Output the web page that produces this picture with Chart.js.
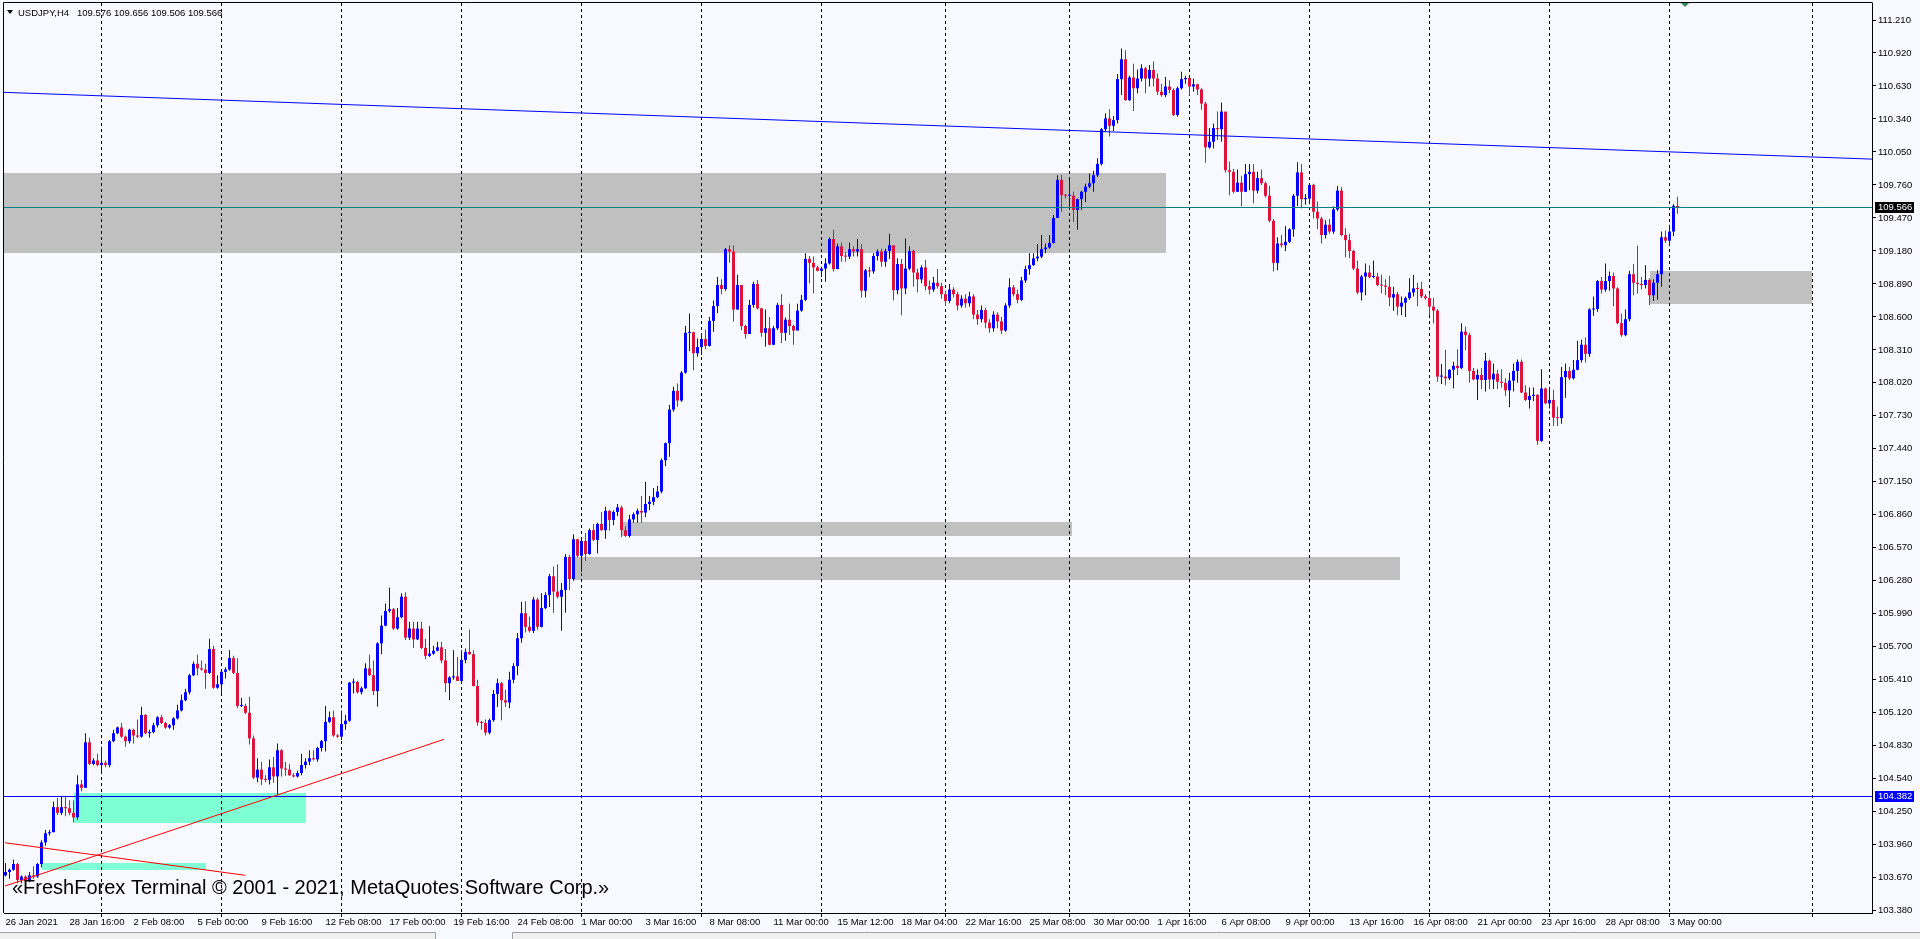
<!DOCTYPE html>
<html>
<head>
<meta charset="utf-8">
<title>USDJPY,H4</title>
<script src="https://cdn.jsdelivr.net/npm/chart.js@4.4.1/dist/chart.umd.min.js"></script>
<style>
  html, body { margin: 0; padding: 0; background: #f8f8ff; overflow: hidden; }
  #chart { display: block; }
</style>
</head>
<body>
<canvas id="chart" width="1920" height="939"></canvas>
<script>
// USDJPY H4, one value per bar (bar 0 = 26 Jan 2021 00:00)
const firstOpen = 103.69;
const closes = [
  103.72,103.74,103.79,103.65,103.68,103.64,103.69,103.68,103.79,103.98,
  104.06,104.07,104.29,104.24,104.29,104.28,104.24,104.20,104.49,104.46,
  104.86,104.67,104.70,104.66,104.68,104.66,104.87,104.94,104.99,104.91,
  104.87,104.97,104.92,104.91,105.10,104.94,104.95,105.01,105.08,105.03,
  104.99,105.01,105.07,105.14,105.23,105.30,105.45,105.55,105.51,105.50,
  105.47,105.68,105.34,105.37,105.48,105.50,105.60,105.47,105.18,105.18,
  105.12,104.895,104.55,104.62,104.535,104.53,104.64,104.56,104.79,104.63,
  104.62,104.57,104.56,104.59,104.66,104.69,104.72,104.71,104.81,104.87,
  105.04,105.08,104.92,104.91,105.02,105.05,105.385,105.39,105.30,105.335,
  105.51,105.45,105.31,105.73,105.885,106.015,106.03,105.86,105.96,106.14,
  105.78,105.86,105.765,105.86,105.69,105.62,105.64,105.665,105.695,105.58,
  105.38,105.43,105.44,105.40,105.585,105.655,105.635,105.355,105.035,105.03,
  104.945,105.055,105.285,105.38,105.23,105.21,105.41,105.53,105.775,105.995,
  105.875,105.84,106.115,105.875,106.04,106.155,106.32,106.185,106.14,106.20,
  106.49,106.295,106.645,106.50,106.63,106.515,106.725,106.64,106.78,106.725,
  106.895,106.815,106.885,106.925,106.725,106.675,106.82,106.865,106.895,106.88,
  106.955,106.975,107.015,107.065,107.34,107.49,107.785,107.95,107.865,108.11,
  108.46,108.465,108.28,108.335,108.405,108.345,108.565,108.695,108.88,108.845,
  109.195,109.175,108.665,108.88,108.52,108.45,108.705,108.89,108.675,108.46,
  108.50,108.355,108.50,108.705,108.46,108.575,108.52,108.48,108.655,108.75,
  109.11,109.075,109.035,109.005,109.025,109.07,109.285,109.02,109.22,109.135,
  109.13,109.195,109.175,109.195,108.83,109.01,109.00,109.135,109.175,109.085,
  109.18,109.23,108.835,109.065,108.85,109.025,109.18,108.99,108.93,109.035,
  108.87,108.84,108.90,108.87,108.80,108.74,108.84,108.80,108.70,108.76,
  108.72,108.78,108.62,108.58,108.66,108.55,108.50,108.62,108.56,108.48,
  108.70,108.86,108.80,108.75,108.92,109.02,109.055,109.115,109.13,109.195,
  109.21,109.25,109.47,109.805,109.67,109.665,109.665,109.54,109.635,109.70,
  109.745,109.775,109.845,109.945,110.25,110.345,110.28,110.33,110.69,110.865,
  110.505,110.705,110.61,110.695,110.785,110.695,110.77,110.695,110.58,110.55,
  110.625,110.595,110.375,110.61,110.69,110.70,110.625,110.645,110.60,110.475,
  110.09,110.14,110.26,110.25,110.405,109.89,109.875,109.70,109.78,109.70,
  109.855,109.875,109.71,109.82,109.775,109.665,109.445,109.075,109.245,109.23,
  109.26,109.37,109.665,109.87,109.635,109.64,109.76,109.525,109.465,109.32,
  109.41,109.35,109.545,109.71,109.32,109.275,109.18,109.025,108.815,108.955,
  108.99,108.95,108.955,108.88,108.875,108.865,108.77,108.80,108.69,108.725,
  108.765,108.815,108.85,108.845,108.78,108.765,108.69,108.655,108.075,108.075,
  108.06,108.135,108.17,108.15,108.47,108.44,108.125,108.05,108.09,108.045,
  108.215,108.05,108.10,108.03,108.02,107.955,108.04,108.125,108.205,107.935,
  107.87,107.905,107.915,107.51,107.97,107.84,107.87,107.715,107.71,108.07,
  108.125,108.06,108.135,108.22,108.355,108.275,108.665,108.67,108.915,108.84,
  108.915,108.96,108.85,108.545,108.44,108.58,108.975,108.90,108.89,108.88,
  108.925,108.79,108.90,108.975,109.30,109.27,109.35,109.576,109.566
];
const highs = [
  103.80,103.75,103.83,103.80,103.69,103.69,103.72,103.77,103.80,104.00,
  104.09,104.09,104.34,104.37,104.38,104.39,104.35,104.35,104.57,104.53,
  104.94,104.90,104.72,104.76,104.82,104.70,104.88,104.97,105.00,105.03,
  104.92,104.98,104.98,105.06,105.17,105.11,104.97,105.03,105.09,105.10,
  105.04,105.02,105.08,105.19,105.28,105.33,105.46,105.57,105.63,105.58,
  105.55,105.77,105.71,105.45,105.49,105.52,105.67,105.62,105.60,105.25,
  105.20,105.26,104.92,104.72,104.69,104.57,104.71,104.73,104.85,104.80,
  104.69,104.67,104.59,104.61,104.76,104.72,104.79,104.79,104.82,104.88,
  105.18,105.13,105.14,104.93,105.14,105.10,105.39,105.42,105.40,105.35,
  105.555,105.63,105.58,105.74,105.975,106.08,106.22,106.04,106.04,106.17,
  106.18,105.92,105.92,105.92,105.92,105.77,105.88,105.71,105.745,105.745,
  105.68,105.44,105.67,105.61,105.67,105.685,105.85,105.67,105.41,105.05,
  105.06,105.07,105.32,105.42,105.39,105.32,105.48,105.555,105.82,106.095,
  106.10,105.965,106.14,106.13,106.17,106.18,106.34,106.405,106.425,106.26,
  106.515,106.51,106.69,106.645,106.64,106.70,106.74,106.78,106.79,106.885,
  106.93,106.90,106.90,106.955,106.94,106.76,106.86,106.88,106.915,107.025,
  107.15,107.025,107.095,107.115,107.355,107.495,107.825,107.985,108.015,108.125,
  108.52,108.63,108.47,108.41,108.455,108.49,108.60,108.745,108.95,108.93,
  109.205,109.23,109.23,108.97,108.88,108.53,108.75,108.91,108.925,108.68,
  108.665,108.60,108.52,108.725,108.80,108.595,108.715,108.53,108.715,108.795,
  109.16,109.135,109.13,109.05,109.04,109.115,109.30,109.365,109.245,109.255,
  109.17,109.255,109.22,109.285,109.24,109.02,109.04,109.16,109.195,109.20,
  109.20,109.33,109.21,109.115,109.11,109.29,109.22,109.19,109.025,109.055,
  109.10,108.92,108.95,109.02,108.90,108.83,108.89,108.86,108.82,108.79,
  108.80,108.82,108.80,108.66,108.70,108.68,108.58,108.65,108.64,108.60,
  108.72,108.94,108.88,108.84,108.95,109.05,109.16,109.16,109.24,109.32,
  109.245,109.32,109.495,109.845,109.85,109.68,109.81,109.70,109.64,109.71,
  109.77,109.86,109.885,109.995,110.26,110.39,110.425,110.365,110.735,110.96,
  110.945,110.72,110.825,110.775,110.82,110.80,110.815,110.845,110.74,110.65,
  110.71,110.68,110.61,110.625,110.755,110.72,110.66,110.695,110.65,110.61,
  110.49,110.26,110.30,110.405,110.485,110.40,109.965,109.90,109.895,109.84,
  109.945,109.945,109.945,109.875,109.895,109.79,109.75,109.46,109.30,109.32,
  109.40,109.38,109.68,109.96,109.945,109.68,109.775,109.77,109.615,109.48,
  109.45,109.46,109.57,109.75,109.74,109.38,109.33,109.19,109.095,108.97,
  109.07,109.055,109.095,108.985,108.97,108.93,108.96,108.865,108.82,108.78,
  108.78,108.94,108.97,108.90,108.91,108.80,108.805,108.765,108.67,108.185,
  108.31,108.14,108.205,108.315,108.545,108.515,108.46,108.15,108.14,108.15,
  108.285,108.225,108.19,108.135,108.14,108.06,108.11,108.19,108.225,108.225,
  108.00,107.98,107.98,107.92,108.14,107.98,107.98,107.96,107.81,108.16,
  108.19,108.16,108.22,108.39,108.40,108.42,108.675,108.78,108.925,108.95,
  109.07,109.00,108.99,108.86,108.63,108.665,109.005,109.065,109.225,108.95,
  109.055,108.94,108.93,109.01,109.35,109.36,109.41,109.59,109.656
];
const lows = [
  103.68,103.66,103.73,103.62,103.62,103.63,103.63,103.66,103.67,103.76,
  103.95,104.04,104.07,104.22,104.22,104.21,104.22,104.16,104.18,104.43,
  104.46,104.66,104.66,104.65,104.60,104.64,104.64,104.86,104.93,104.90,
  104.82,104.85,104.85,104.90,104.90,104.93,104.90,104.94,104.99,105.02,
  104.98,104.98,104.97,105.06,105.13,105.22,105.28,105.44,105.45,105.49,
  105.33,105.46,105.33,105.33,105.29,105.42,105.49,105.46,105.16,105.17,
  105.11,104.84,104.535,104.51,104.485,104.51,104.49,104.505,104.40,104.56,
  104.565,104.565,104.55,104.55,104.57,104.63,104.66,104.70,104.69,104.78,
  104.78,105.03,104.91,104.90,104.88,104.97,105.04,105.29,105.29,105.28,
  105.33,105.44,105.275,105.175,105.635,105.88,106.00,105.85,105.85,105.95,
  105.76,105.76,105.69,105.76,105.68,105.59,105.61,105.63,105.66,105.555,
  105.30,105.23,105.41,105.40,105.38,105.555,105.63,105.35,105.005,104.97,
  104.92,104.93,105.04,105.17,105.055,105.17,105.16,105.38,105.45,105.735,
  105.825,105.825,105.82,105.85,105.87,106.03,106.05,106.00,106.125,105.84,
  106.00,106.20,106.28,106.485,106.36,106.455,106.51,106.63,106.52,106.72,
  106.65,106.72,106.77,106.85,106.665,106.665,106.66,106.79,106.79,106.79,
  106.84,106.90,106.945,107.005,107.05,107.29,107.37,107.765,107.81,107.855,
  108.10,108.30,108.13,108.25,108.265,108.315,108.34,108.47,108.635,108.80,
  108.83,109.075,108.56,108.66,108.485,108.41,108.46,108.68,108.665,108.425,
  108.34,108.35,108.35,108.485,108.37,108.39,108.44,108.355,108.485,108.645,
  108.74,108.895,108.805,109.00,108.95,108.91,109.06,109.00,109.03,109.085,
  109.085,109.11,109.13,109.13,108.77,108.77,108.95,108.98,109.095,109.04,
  109.04,109.11,108.745,108.80,108.615,108.80,109.01,108.865,108.815,108.895,
  108.835,108.80,108.82,108.85,108.76,108.70,108.72,108.77,108.66,108.68,
  108.68,108.69,108.58,108.53,108.55,108.50,108.46,108.47,108.50,108.45,
  108.47,108.68,108.78,108.72,108.74,108.90,108.97,109.05,109.09,109.115,
  109.16,109.20,109.245,109.47,109.525,109.64,109.54,109.435,109.365,109.54,
  109.61,109.73,109.70,109.83,109.93,110.23,110.185,110.235,110.30,110.55,
  110.50,110.50,110.41,110.565,110.67,110.565,110.625,110.625,110.55,110.535,
  110.53,110.565,110.365,110.36,110.60,110.65,110.55,110.58,110.55,110.42,
  109.955,110.08,110.08,110.155,110.14,109.87,109.67,109.685,109.70,109.575,
  109.70,109.715,109.60,109.685,109.76,109.65,109.435,109.00,109.01,109.21,
  109.18,109.25,109.305,109.575,109.555,109.585,109.60,109.465,109.37,109.245,
  109.29,109.33,109.33,109.53,109.31,109.125,109.115,109.01,108.80,108.745,
  108.79,108.94,108.94,108.87,108.805,108.79,108.695,108.655,108.615,108.615,
  108.60,108.75,108.78,108.695,108.765,108.75,108.615,108.545,108.03,108.01,
  108.00,108.045,107.97,108.09,108.14,108.31,108.02,108.045,107.87,107.965,
  107.945,107.965,107.965,107.965,107.98,107.905,107.805,107.945,108.02,107.93,
  107.86,107.795,107.86,107.475,107.50,107.835,107.795,107.64,107.64,107.66,
  107.89,108.045,108.05,108.13,108.20,108.20,108.25,108.61,108.645,108.805,
  108.82,108.83,108.695,108.535,108.425,108.43,108.56,108.79,108.805,108.84,
  108.85,108.705,108.74,108.75,108.865,109.25,109.22,109.31,109.506
];

// time axis: bar index of each label and its text
const timeTicks = [0,16,32,48,64,80,96,112,128,144,160,176,192,208,224,240,256,272,288,304,320,336,352,368,384,400,416];
const timeLabels = ['26 Jan 2021','28 Jan 16:00','2 Feb 08:00','5 Feb 00:00','9 Feb 16:00','12 Feb 08:00',
  '17 Feb 00:00','19 Feb 16:00','24 Feb 08:00','1 Mar 00:00','3 Mar 16:00','8 Mar 08:00','11 Mar 00:00',
  '15 Mar 12:00','18 Mar 04:00','22 Mar 16:00','25 Mar 08:00','30 Mar 00:00','1 Apr 16:00','6 Apr 08:00',
  '9 Apr 00:00','13 Apr 16:00','16 Apr 08:00','21 Apr 00:00','23 Apr 16:00','28 Apr 08:00','3 May 00:00'];
// week separators (Monday 00:00 bars) and the one in the future area
const weekGrid = [24,54,84,114,144,174,204,235,266,296,326,356,386,416,451.7];
const priceTicks = ['103.380','103.670','103.960','104.250','104.540','104.830','105.120','105.410','105.700',
  '105.990','106.280','106.570','106.860','107.150','107.440','107.730','108.020','108.310','108.600',
  '108.890','109.180','109.470','109.760','110.050','110.340','110.630','110.920','111.210'];

// drawn objects, in bar index / price
const grayZones = [
  {from: -1, to: 290, lo: 109.162, hi: 109.865},
  {from: 411, to: 451.7, lo: 108.713, hi: 109.003},
  {from: 154, to: 266.5, lo: 106.677, hi: 106.800},
  {from: 142, to: 348.6, lo: 106.287, hi: 106.492}
];
const greenZones = [
  {from: 17, to: 75, lo: 104.153, hi: 104.411},
  {from: 9, to: 50, lo: 103.737, hi: 103.802}
];
const blueTrend = [{x: -0.375, p: 110.574}, {x: 466.625, p: 109.987}];
const redTrends = [
  [{x: -0.125, p: 103.597}, {x: 109.6, p: 104.886}],
  [{x: -0.125, p: 103.977}, {x: 59.9, p: 103.691}]
];
const levelLine = 104.382;
const bidPrice = 109.566;
const header = {symbol: 'USDJPY,H4', ohlc: '109.576 109.656 109.506 109.566'};
const watermark = '\u00abFreshForex Terminal \u00a9 2001 - 2021, MetaQuotes Software Corp.\u00bb';

const BULL = '#0000ff';
const BEAR = '#dc143c';
const SMALL_FONT = "'Liberation Sans', Arial, sans-serif";
const SMALL_SIZE = 9.5;

const opens = closes.map((c, i) => (i === 0 ? firstOpen : closes[i - 1]));
const candleColors = closes.map((c, i) => (c >= opens[i] ? BULL : BEAR));

const mt4 = {
  id: 'mt4',
  beforeDraw(chart) {
    const {ctx, width, height} = chart;
    ctx.save();
    ctx.fillStyle = '#f8f8ff';
    ctx.fillRect(0, 0, width, height);
    ctx.restore();
  },
  beforeDatasetsDraw(chart) {
    const {ctx, chartArea: a, scales: {x, y}} = chart;
    ctx.save();
    ctx.beginPath();
    ctx.rect(a.left, a.top, a.right - a.left, a.bottom - a.top);
    ctx.clip();
    const fillZone = (z, color) => {
      const x0 = Math.round(x.getPixelForValue(z.from));
      const x1 = Math.round(x.getPixelForValue(z.to));
      const y0 = Math.round(y.getPixelForValue(z.hi));
      const y1 = Math.round(y.getPixelForValue(z.lo));
      ctx.fillStyle = color;
      ctx.fillRect(x0, y0, x1 - x0, y1 - y0);
    };
    grayZones.forEach((z) => fillZone(z, '#c0c0c0'));
    greenZones.forEach((z) => fillZone(z, '#7fffd4'));
    // week grid
    ctx.strokeStyle = '#000';
    ctx.lineWidth = 1;
    ctx.setLineDash([3, 3]);
    weekGrid.forEach((v) => {
      const px = Math.floor(x.getPixelForValue(v)) + 0.5;
      ctx.beginPath();
      ctx.moveTo(px, a.top);
      ctx.lineTo(px, a.bottom);
      ctx.stroke();
    });
    ctx.restore();
  },
  afterDatasetsDraw(chart) {
    const {ctx, chartArea: a, scales: {x, y}} = chart;
    ctx.save();
    ctx.beginPath();
    ctx.rect(a.left, a.top, a.right - a.left, a.bottom - a.top);
    ctx.clip();
    ctx.lineWidth = 1;
    const hline = (p, color) => {
      const py = Math.floor(y.getPixelForValue(p)) + 0.5;
      ctx.strokeStyle = color;
      ctx.beginPath();
      ctx.moveTo(a.left, py);
      ctx.lineTo(a.right, py);
      ctx.stroke();
    };
    hline(levelLine, '#0000ff');
    hline(bidPrice, '#008080');
    const seg = (pts, color) => {
      ctx.strokeStyle = color;
      ctx.beginPath();
      ctx.moveTo(x.getPixelForValue(pts[0].x), y.getPixelForValue(pts[0].p));
      ctx.lineTo(x.getPixelForValue(pts[1].x), y.getPixelForValue(pts[1].p));
      ctx.stroke();
    };
    seg(blueTrend, '#0000ff');
    redTrends.forEach((t) => seg(t, '#ff0000'));
    ctx.restore();
  },
  afterDraw(chart) {
    const {ctx, chartArea: a, scales: {x, y}} = chart;
    ctx.save();
    // frame
    ctx.strokeStyle = '#000';
    ctx.lineWidth = 1;
    ctx.beginPath();
    ctx.moveTo(3.5, 913);
    ctx.lineTo(3.5, 2.5);
    ctx.lineTo(a.right + 0.5, 2.5);
    ctx.stroke();
    // small ticks under the week grid
    weekGrid.forEach((v) => {
      const px = Math.floor(x.getPixelForValue(v)) + 0.5;
      if (px > a.right) return;
      ctx.beginPath();
      ctx.moveTo(px, a.bottom);
      ctx.lineTo(px, a.bottom + 4);
      ctx.stroke();
    });
    // chart tab strip at the bottom of the window
    ctx.fillStyle = '#f0f0f0';
    ctx.fillRect(0, 933, chart.width, 6);
    ctx.strokeStyle = '#a0a0a0';
    ctx.beginPath();
    ctx.moveTo(0, 932.5);
    ctx.lineTo(435.5, 932.5);
    ctx.lineTo(435.5, 939);
    ctx.moveTo(512.5, 939);
    ctx.lineTo(512.5, 932.5);
    ctx.lineTo(chart.width, 932.5);
    ctx.stroke();
    ctx.fillStyle = '#f8f8ff';
    ctx.fillRect(436, 933, 76, 6);
    // price tags on the axis
    const tag = (p, bg) => {
      const py = Math.floor(y.getPixelForValue(p));
      ctx.fillStyle = bg;
      ctx.fillRect(a.right + 3, py - 5, 39, 11);
      ctx.fillStyle = '#ffffff';
      ctx.font = SMALL_SIZE + 'px ' + SMALL_FONT;
      ctx.textBaseline = 'middle';
      ctx.textAlign = 'left';
      ctx.fillText(p.toFixed(3), a.right + 6, py + 0.5);
    };
    tag(bidPrice, '#000000');
    tag(levelLine, '#0000ff');
    // header
    ctx.fillStyle = '#000';
    ctx.beginPath();
    ctx.moveTo(7, 10);
    ctx.lineTo(13, 10);
    ctx.lineTo(10, 14);
    ctx.closePath();
    ctx.fill();
    ctx.font = SMALL_SIZE + 'px ' + SMALL_FONT;
    ctx.textBaseline = 'alphabetic';
    ctx.textAlign = 'left';
    ctx.fillText(header.symbol, 18, 15.5);
    ctx.fillText(header.ohlc, 77, 15.5);
    // watermark
    ctx.font = "20px 'Liberation Sans', Arial, sans-serif";
    ctx.fillText(watermark, 12, 894);
    // shift marker
    ctx.fillStyle = '#2e8b57';
    ctx.beginPath();
    ctx.moveTo(1681, 3);
    ctx.lineTo(1689, 3);
    ctx.lineTo(1685, 7);
    ctx.closePath();
    ctx.fill();
    ctx.restore();
  }
};

new Chart(document.getElementById('chart'), {
  type: 'bar',
  data: {
    datasets: [
      {
        label: 'range',
        data: closes.map((c, i) => ({x: i, y: [lows[i], highs[i]]})),
        backgroundColor: candleColors,
        barThickness: 1,
        grouped: false,
        borderWidth: 0,
        inflateAmount: 0
      },
      {
        label: 'body',
        data: closes.map((c, i) => ({x: i, y: [opens[i], c]})),
        backgroundColor: candleColors,
        barThickness: 3,
        minBarLength: 1,
        grouped: false,
        borderWidth: 0,
        inflateAmount: 0
      }
    ]
  },
  options: {
    responsive: false,
    devicePixelRatio: 1,
    animation: false,
    events: [],
    layout: {padding: {left: 4, top: 3, right: 0, bottom: 0}},
    plugins: {legend: {display: false}, tooltip: {enabled: false}},
    scales: {
      x: {
        type: 'linear',
        offset: false,
        min: -0.375,
        max: 466.625,
        afterBuildTicks: (s) => { s.ticks = timeTicks.map((v) => ({value: v})); },
        afterFit: (s) => { s.height = 26; s.paddingLeft = 0; s.paddingRight = 0; },
        grid: {display: false, drawTicks: false, offset: false},
        border: {display: true, color: '#000'},
        ticks: {
          autoSkip: false, maxRotation: 0, minRotation: 0, align: 'start', padding: 4,
          color: '#000', font: {family: SMALL_FONT, size: SMALL_SIZE},
          callback: (v, i) => timeLabels[i]
        }
      },
      y: {
        position: 'right',
        min: 103.3595,
        max: 111.3595,
        afterBuildTicks: (s) => { s.ticks = priceTicks.map((t) => ({value: parseFloat(t)})); },
        afterFit: (s) => { s.width = 48; s.paddingTop = 0; s.paddingBottom = 0; },
        grid: {drawOnChartArea: false, drawTicks: true, tickLength: 4, color: '#000'},
        border: {display: true, color: '#000'},
        ticks: {
          autoSkip: false, padding: 2, color: '#000', font: {family: SMALL_FONT, size: SMALL_SIZE},
          callback: (v, i) => priceTicks[i]
        }
      }
    }
  },
  plugins: [mt4]
});
</script>
</body>
</html>
